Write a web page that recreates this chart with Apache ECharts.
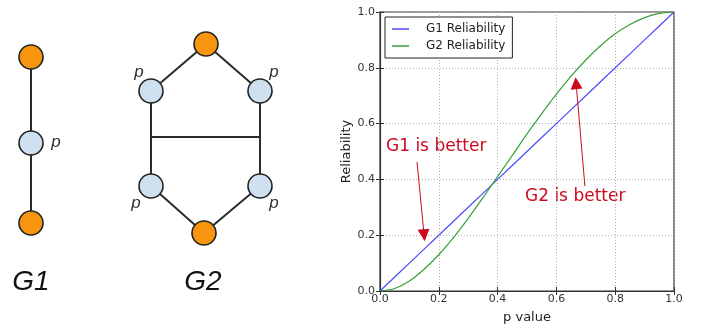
<!DOCTYPE html>
<html>
<head>
<meta charset="utf-8">
<script src="https://cdn.jsdelivr.net/npm/echarts@6/dist/echarts.min.js"></script>
<style>html,body{margin:0;padding:0;background:#fff}#c{width:703px;height:329px}</style>
</head>
<body>
<div id="c"></div>
<script>
// ---- chart data ----
const pValues  = [0, 0.05, 0.1, 0.15, 0.2, 0.25, 0.3, 0.35, 0.4, 0.45, 0.5, 0.55, 0.6, 0.65, 0.7, 0.75, 0.8, 0.85, 0.9, 0.95, 1.0];
const g1Values = [0, 0.05, 0.1, 0.15, 0.2, 0.25, 0.3, 0.35, 0.4, 0.45, 0.5, 0.55, 0.6, 0.65, 0.7, 0.75, 0.8, 0.85, 0.9, 0.95, 1.0];
const g2Values = [0, 0.009, 0.036, 0.078, 0.13, 0.191, 0.26, 0.334, 0.41, 0.486, 0.563, 0.636, 0.706, 0.77, 0.828, 0.879, 0.922, 0.955, 0.98, 0.995, 1.0];
const seriesNames = ['G1 Reliability', 'G2 Reliability'];
const annotations = ['G1 is better', 'G2 is better'];
// arrows: [from, to] in data units
const arrowG1 = [[0.126, 0.462], [0.150, 0.200]];
const arrowG2 = [[0.697, 0.376], [0.667, 0.745]];

// ---- diagram data ----
const graphNames = ['G1', 'G2'];
const nodeKinds = ['terminal', 'p', 'terminal', 'terminal', 'p', 'p', 'p', 'p', 'terminal'];
const nodeLabels = ['', 'p', '', '', 'p', 'p', 'p', 'p', ''];
// diagram layout (diagram space)
const nodeLayout = [[31, 57], [31, 143], [31, 223], [206, 44], [151, 91], [260, 91], [151, 186], [260, 186], [204, 233]];
const labelSide = [null, 'right', null, null, 'topLeft', 'topRight', 'bottomLeft', 'bottomRight', null];
const edges = [[0, 1], [1, 2], [3, 4], [3, 5], [4, 6], [5, 7], [6, 8], [7, 8]];
const bridge = [[151, 137], [260, 137]];

const chart = echarts.init(document.getElementById('c'), null, {renderer: 'canvas'});

const labelOffsets = {
  right: [25, -1], topLeft: [-12, -19], topRight: [14, -19], bottomLeft: [-15, 17], bottomRight: [14, 17]
};
const nodeData = nodeLayout.map((pos, i) => ({
  value: pos,
  itemStyle: {color: nodeKinds[i] === 'terminal' ? '#f7950f' : '#cfe0f0'},
  label: labelSide[i] ? {show: true, formatter: nodeLabels[i], position: 'inside', offset: labelOffsets[labelSide[i]]} : {show: false}
}));
const edgeData = edges.map(e => ({coords: [nodeLayout[e[0]], nodeLayout[e[1]]]})).concat([{coords: bridge}]);

const tickFmt = v => v.toFixed(1);
const fontFam = 'DejaVu Sans';

chart.setOption({
  animation: false,
  textStyle: {fontFamily: fontFam},
  color: ['#4a4aff', '#36a036'],
  legend: {
    left: 385, top: 17, orient: 'vertical',
    data: seriesNames.map(n => ({name: n, icon: 'rect'})),
    itemWidth: 17, itemHeight: 1.5, itemGap: 5,
    padding: [6, 7, 6, 7],
    borderColor: '#222', borderWidth: 1, backgroundColor: '#fff',
    textStyle: {fontSize: 12, color: '#222', fontFamily: fontFam, padding: [0, 0, 0, 12]}
  },
  grid: [
    {left: 380, top: 12, width: 294, height: 281, show: true, borderColor: '#333', borderWidth: 1.2, backgroundColor: 'transparent'},
    {left: 0, top: 0, width: 330, height: 329, show: false}
  ],
  xAxis: [
    {type: 'value', gridIndex: 0, min: 0, max: 1, interval: 0.2,
     name: 'p value', nameLocation: 'middle', nameGap: 20,
     nameTextStyle: {fontSize: 13, color: '#222'},
     axisLine: {show: true, lineStyle: {color: '#333', width: 1.2}},
     axisTick: {show: true, inside: true, length: 4, lineStyle: {color: '#333'}},
     axisLabel: {formatter: tickFmt, fontSize: 11, color: '#333', margin: 3, showMinLabel: true, showMaxLabel: true},
     splitLine: {show: true, lineStyle: {color: '#b0b0b0', type: [1, 2], width: 1}}},
    {type: 'value', gridIndex: 0, position: 'top', min: 0, max: 1, interval: 0.2,
     axisLine: {show: false}, axisTick: {show: true, inside: true, length: 4, lineStyle: {color: '#333'}},
     axisLabel: {show: false}, splitLine: {show: false}},
    {type: 'value', gridIndex: 1, min: 0, max: 330, show: false}
  ],
  yAxis: [
    {type: 'value', gridIndex: 0, min: 0, max: 1, interval: 0.2,
     name: 'Reliability', nameLocation: 'middle', nameGap: 24, nameRotate: 90,
     nameTextStyle: {fontSize: 13, color: '#222'},
     axisLine: {show: true, lineStyle: {color: '#333', width: 1.2}},
     axisTick: {show: true, inside: true, length: 4, lineStyle: {color: '#333'}},
     axisLabel: {formatter: tickFmt, fontSize: 11, color: '#333', margin: 5},
     splitLine: {show: true, lineStyle: {color: '#b0b0b0', type: [1, 2], width: 1}}},
    {type: 'value', gridIndex: 0, position: 'right', min: 0, max: 1, interval: 0.2,
     axisLine: {show: false}, axisTick: {show: true, inside: true, length: 4, lineStyle: {color: '#333'}},
     axisLabel: {show: false}, splitLine: {show: false}},
    {type: 'value', gridIndex: 1, min: 0, max: 329, inverse: true, show: false}
  ],
  series: [
    {name: seriesNames[0], type: 'line', xAxisIndex: 0, yAxisIndex: 0, showSymbol: false, symbol: 'none',
     data: pValues.map((p, i) => [p, g1Values[i]]), lineStyle: {width: 1.2}, z: 3},
    {name: seriesNames[1], type: 'line', xAxisIndex: 0, yAxisIndex: 0, showSymbol: false, symbol: 'none', smooth: 0.3,
     data: pValues.map((p, i) => [p, g2Values[i]]), lineStyle: {width: 1.2}, z: 3},
    {type: 'lines', coordinateSystem: 'cartesian2d', xAxisIndex: 0, yAxisIndex: 0,
     symbol: ['none', 'triangle'], symbolSize: [10, 12],
     lineStyle: {color: '#cc0a1e', width: 1, opacity: 1},
     itemStyle: {color: '#cc0a1e'},
     data: [{coords: arrowG1}, {coords: arrowG2}], z: 4, silent: true},
    {type: 'lines', coordinateSystem: 'cartesian2d', xAxisIndex: 2, yAxisIndex: 2,
     lineStyle: {color: '#2b2b2b', width: 2, opacity: 1},
     data: edgeData, z: 2, silent: true},
    {type: 'scatter', xAxisIndex: 2, yAxisIndex: 2, symbolSize: 24,
     itemStyle: {borderColor: '#222', borderWidth: 1.6, opacity: 1},
     label: {color: '#333', fontSize: 17, fontStyle: 'italic', fontFamily: 'Liberation Sans'},
     data: nodeData, z: 5, silent: true}
  ],
  graphic: [
    {type: 'text', left: 386, top: 138, style: {text: annotations[0], fill: '#cc0a1e', fontSize: 17, fontFamily: fontFam}},
    {type: 'text', left: 525, top: 188, style: {text: annotations[1], fill: '#cc0a1e', fontSize: 17, fontFamily: fontFam}},
    {type: 'text', x: 31, y: 282, style: {text: graphNames[0], fill: '#111', fontSize: 28, fontStyle: 'italic', fontFamily: 'Liberation Sans', align: 'center', verticalAlign: 'middle'}},
    {type: 'text', x: 203, y: 282, style: {text: graphNames[1], fill: '#111', fontSize: 28, fontStyle: 'italic', fontFamily: 'Liberation Sans', align: 'center', verticalAlign: 'middle'}}
  ]
});
</script>
</body>
</html>
